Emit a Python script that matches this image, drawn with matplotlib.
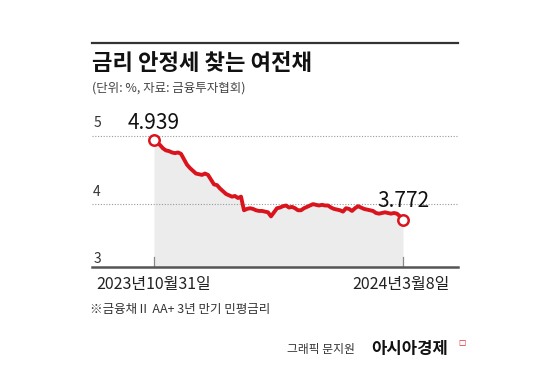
#!/usr/bin/env python3
"""Yield of credit-card/capital bonds (AA+ 3y) - recreated chart."""
import matplotlib
matplotlib.use("Agg")
import matplotlib.pyplot as plt

plt.rcParams["font.family"] = ["Noto Sans CJK KR", "DejaVu Sans"]

# values, roughly every trading day or two
rates = [
    4.939, 4.90, 4.87, 4.82, 4.79, 4.78, 4.76, 4.75, 4.76, 4.74,
    4.66, 4.58, 4.53, 4.49, 4.45, 4.44, 4.43, 4.45, 4.43, 4.36,
    4.29, 4.28, 4.23, 4.19, 4.15, 4.13, 4.11, 4.12, 4.09, 4.11,
    3.91, 3.93, 3.94, 3.93, 3.91, 3.90, 3.90, 3.89, 3.88, 3.82,
    3.88, 3.94, 3.95, 3.97, 3.98, 3.95, 3.96, 3.94, 3.91, 3.91,
    3.94, 3.96, 3.98, 4.00, 3.99, 3.98, 3.99, 3.98, 3.98, 3.95,
    3.93, 3.92, 3.91, 3.89, 3.94, 3.93, 3.90, 3.94, 3.97, 3.95,
    3.93, 3.92, 3.91, 3.90, 3.87, 3.86, 3.87, 3.88, 3.87, 3.86,
    3.87, 3.86, 3.82, 3.772,
]
start_label = "2023년10월31일"
end_label = "2024년3월8일"
y_ticks = [3, 4, 5]

RED = "#d9141c"
FILL = "#ececec"
W, H = 550, 367

fig = plt.figure(figsize=(5.5, 3.67), dpi=100)

# plot area in pixel coordinates
left, right, bottom_px, ymin, ymax, ppu = 92, 458, 266.7, 3.08, 5.3, 68.0
top_px = bottom_px - (ymax - ymin) * ppu
ax = fig.add_axes([left / W, 1 - bottom_px / H, (right - left) / W, (bottom_px - top_px) / H])

n = len(rates)
x = list(range(n))
px_per_idx = (403 - 154) / (n - 1)
xmin = -(154 - left) / px_per_idx
xmax = (n - 1) + (right - 403) / px_per_idx
ax.set_xlim(xmin, xmax)
ax.set_ylim(ymin, ymax)

ax.fill_between(x, rates, ymin, color=FILL, lw=0, zorder=1)
ax.plot(x, rates, color=RED, lw=2.8, solid_joinstyle="round", zorder=3)
ax.plot([x[0], x[-1]], [rates[0], rates[-1]], ls="none", marker="o", ms=7.5,
        mfc="white", mec=RED, mew=1.8, zorder=4)

for v in [4, 5]:
    ax.axhline(v, color="#9a9a9a", lw=0.8, ls=(0, (1, 1.5)), zorder=2)

# y labels sit just above their lines
label_pos = {3: 3.2, 4: 4.18, 5: 5.19}
for v in y_ticks:
    ax.text(xmin + 0.4, label_pos[v], str(v), fontsize=10, color="#333333",
            ha="left", va="center")

# small ticks at the two end dates
for xi in [x[0], x[-1]]:
    ax.plot([xi, xi], [ymin, ymin + 0.15], color="#888888", lw=0.9, zorder=2)

ax.text(x[0], rates[0] + 0.25, f"{rates[0]:.3f}", fontsize=15, ha="center",
        va="center", color="#111111")
ax.text(x[-1], rates[-1] + 0.28, f"{rates[-1]:.3f}", fontsize=15, ha="center",
        va="center", color="#111111")

for s in ["top", "left", "right"]:
    ax.spines[s].set_visible(False)
ax.spines["bottom"].set_color("#555555")
ax.spines["bottom"].set_linewidth(1.8)
ax.set_xticks([])
ax.set_yticks([])

# x labels
fig.text(154 / W, 1 - 285 / H, start_label, fontsize=11.5, ha="center",
         va="center", color="#222222")
fig.text(401 / W, 1 - 285 / H, end_label, fontsize=11.5, ha="center",
         va="center", color="#222222")

# header
fig.add_artist(plt.Line2D([left / W, right / W], [1 - 43 / H, 1 - 43 / H],
                          color="#333333", lw=1.6))
fig.text(left / W, 1 - 63 / H, "금리 안정세 찾는 여전채", fontsize=16,
         fontweight="heavy", ha="left", va="center", color="#111111")
fig.text(left / W, 1 - 88 / H, "(단위: %, 자료: 금융투자협회)", fontsize=9,
         ha="left", va="center", color="#444444")

# footnote and credit
fig.text(90 / W, 1 - 309 / H, "※금융채Ⅱ AA+ 3년 만기 민평금리", fontsize=9,
         ha="left", va="center", color="#333333")
fig.text(355 / W, 1 - 349 / H, "그래픽 문지원", fontsize=8.5, ha="right",
         va="center", color="#333333")
fig.text(371 / W, 1 - 349 / H, "아시아경제", fontsize=12, fontweight="heavy",
         ha="left", va="center", color="#111111")
fig.text(458 / W, 1 - 343 / H, "\u25a1", fontsize=5.5, ha="left", va="center",
         color=RED, family=["DejaVu Sans"])

fig.savefig("out.png", dpi=100)
